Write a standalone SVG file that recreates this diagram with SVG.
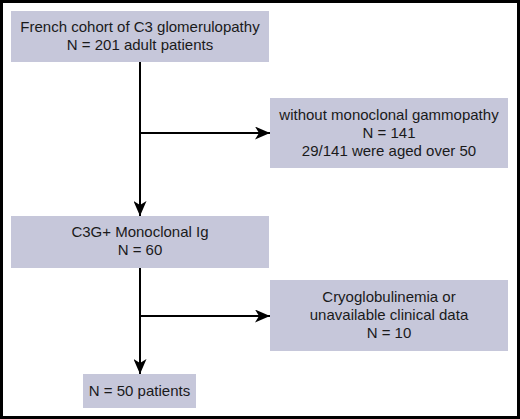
<svg xmlns="http://www.w3.org/2000/svg" width="520" height="419" viewBox="0 0 520 419">
  <style>
    .box { fill: #c6c7da; }
    .t { font-family: "Liberation Sans", Arial, sans-serif; font-size: 15px; fill: #1a1a1a; text-anchor: middle; }
    .ln { stroke: #000; stroke-width: 2; fill: none; }
  </style>
  <defs>
    <marker id="ah" viewBox="0 0 15 13" refX="15" refY="6.5" markerWidth="15" markerHeight="13" markerUnits="userSpaceOnUse" orient="auto">
      <path d="M0,0 L15,6.5 L0,13 L4,6.5 Z" fill="#000"/>
    </marker>
  </defs>
  <rect x="1.5" y="1.5" width="517" height="416" fill="#fff" stroke="#000" stroke-width="3"/>
  <g id="connectors">
    <line class="ln" x1="140" y1="62" x2="140" y2="216" marker-end="url(#ah)"/>
    <line class="ln" x1="140" y1="133" x2="270" y2="133" marker-end="url(#ah)"/>
    <line class="ln" x1="140" y1="268" x2="140" y2="374" marker-end="url(#ah)"/>
    <line class="ln" x1="140" y1="316" x2="270" y2="316" marker-end="url(#ah)"/>
  </g>
  <g id="cohort">
    <rect class="box" x="11" y="11" width="258" height="51"/>
    <text class="t" x="140" y="32">French cohort of C3 glomerulopathy</text>
    <text class="t" x="140" y="50">N = 201 adult patients</text>
  </g>
  <g id="without">
    <rect class="box" x="270" y="98" width="238" height="70"/>
    <text class="t" x="389" y="120">without monoclonal gammopathy</text>
    <text class="t" x="389" y="138">N = 141</text>
    <text class="t" x="389" y="156">29/141 were aged over 50</text>
  </g>
  <g id="c3g">
    <rect class="box" x="11" y="216" width="258" height="52"/>
    <text class="t" x="140" y="237">C3G+ Monoclonal Ig</text>
    <text class="t" x="140" y="255">N = 60</text>
  </g>
  <g id="cryo">
    <rect class="box" x="270" y="280" width="238" height="71"/>
    <text class="t" x="389" y="302">Cryoglobulinemia or</text>
    <text class="t" x="389" y="320">unavailable clinical data</text>
    <text class="t" x="389" y="338">N = 10</text>
  </g>
  <g id="final">
    <rect class="box" x="83" y="374" width="113" height="34"/>
    <text class="t" x="139.5" y="396">N = 50 patients</text>
  </g>
</svg>
